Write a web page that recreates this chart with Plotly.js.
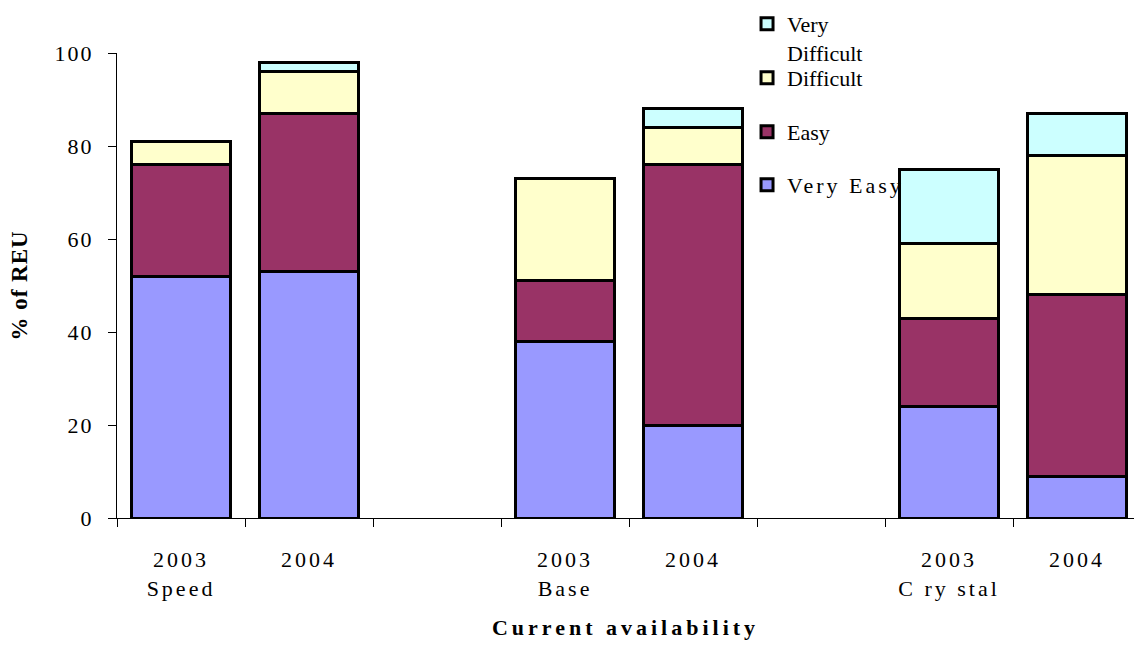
<!DOCTYPE html>
<html>
<head>
<meta charset="utf-8">
<script src="https://cdn.plot.ly/plotly-3.0.1.min.js"></script>
<style>
  html, body { margin: 0; padding: 0; background: #fff; }
  #chart { width: 1134px; height: 645px; }
  .xtick text { letter-spacing: 3px; }
  .ytick text { letter-spacing: 2px; }
  text.legendtext { letter-spacing: 3px; }
  text.xtitle { letter-spacing: 4px; }
  text.ytitle { letter-spacing: 1px; }
</style>
</head>
<body>
<div id="chart"></div>
<script>
// Category slots on the x axis (blank slots separate the groups)
const categories = ['Speed 2003', 'Speed 2004', 'gap1', 'Base 2003', 'Base 2004', 'gap2', 'Crystal 2003', 'Crystal 2004'];
const tickLabels = ['2003<br>Speed', '2004', '', '2003<br>Base', '2004', '', '2003<br>C ry stal', '2004'];
const barCategories = ['Speed 2003', 'Speed 2004', 'Base 2003', 'Base 2004', 'Crystal 2003', 'Crystal 2004'];

// Series values (% of REU)
const veryEasy      = [52, 53, 38, 20, 24, 9];
const easy          = [24, 34, 13, 56, 19, 39];
const difficult     = [5, 9, 22, 8, 16, 30];
const veryDifficult = [0, 2, 0, 4, 16, 9];

const seriesNames = ['Very Easy', 'Easy', 'Difficult', 'Very<br>Difficult'];
const seriesColors = ['#9999FF', '#993366', '#FFFFCC', '#CCFFFF'];
const seriesValues = [veryEasy, easy, difficult, veryDifficult];
const legendIds = ['legend', 'legend2', 'legend3', 'legend4'];

const FONT = '"Liberation Serif", "Times New Roman", serif';

const traces = seriesValues.map((vals, i) => ({
  type: 'bar',
  x: barCategories,
  y: vals,
  name: seriesNames[i],
  legend: legendIds[i],
  width: 0.78,
  marker: { color: seriesColors[i], line: { color: '#000000', width: 3 } },
  hoverinfo: 'skip'
}));

const legendBase = {
  xanchor: 'left',
  x: 0.6195,
  bgcolor: 'rgba(0,0,0,0)',
  borderwidth: 0,
  font: { family: FONT, size: 22, color: '#000' }
};

const layout = {
  width: 1134,
  height: 645,
  margin: { l: 117, r: 0, t: 53, b: 127, pad: 0 },
  paper_bgcolor: '#ffffff',
  plot_bgcolor: '#ffffff',
  barmode: 'stack',
  showlegend: true,
  font: { family: FONT, size: 22, color: '#000' },
  xaxis: {
    type: 'category',
    categoryorder: 'array',
    categoryarray: categories,
    tickvals: categories,
    ticktext: tickLabels,
    tickson: 'boundaries',
    range: [-0.5, 7.445],
    ticks: 'outside',
    ticklen: 8,
    tickcolor: '#000',
    tickwidth: 1,
    ticklabelstandoff: 22,
    showline: true,
    linecolor: '#000',
    linewidth: 1,
    showgrid: false,
    zeroline: false,
    tickfont: { family: FONT, size: 22, color: '#000' },
    title: { text: 'Current availability', font: { family: FONT, size: 22, weight: 'bold', color: '#000' }, standoff: 19 }
  },
  yaxis: {
    range: [0, 100],
    tickvals: [0, 20, 40, 60, 80, 100],
    ticks: 'outside',
    ticklen: 8,
    tickcolor: '#000',
    tickwidth: 1,
    ticklabelstandoff: 10,
    showline: true,
    linecolor: '#000',
    linewidth: 1,
    showgrid: false,
    zeroline: false,
    tickfont: { family: FONT, size: 22, color: '#000' },
    title: { text: '% of REU', font: { family: FONT, size: 23, weight: 'bold', color: '#000' }, standoff: 20 }
  },
  legend:  Object.assign({}, legendBase, { y: 0.7161, yanchor: 'middle' }),
  legend2: Object.assign({}, legendBase, { y: 0.8301, yanchor: 'middle' }),
  legend3: Object.assign({}, legendBase, { y: 0.9462, yanchor: 'middle' }),
  legend4: Object.assign({}, legendBase, { y: 1.1076, yanchor: 'top', valign: 'top' })
};

Plotly.newPlot('chart', traces, layout, { staticPlot: true, displayModeBar: false });
</script>
</body>
</html>
